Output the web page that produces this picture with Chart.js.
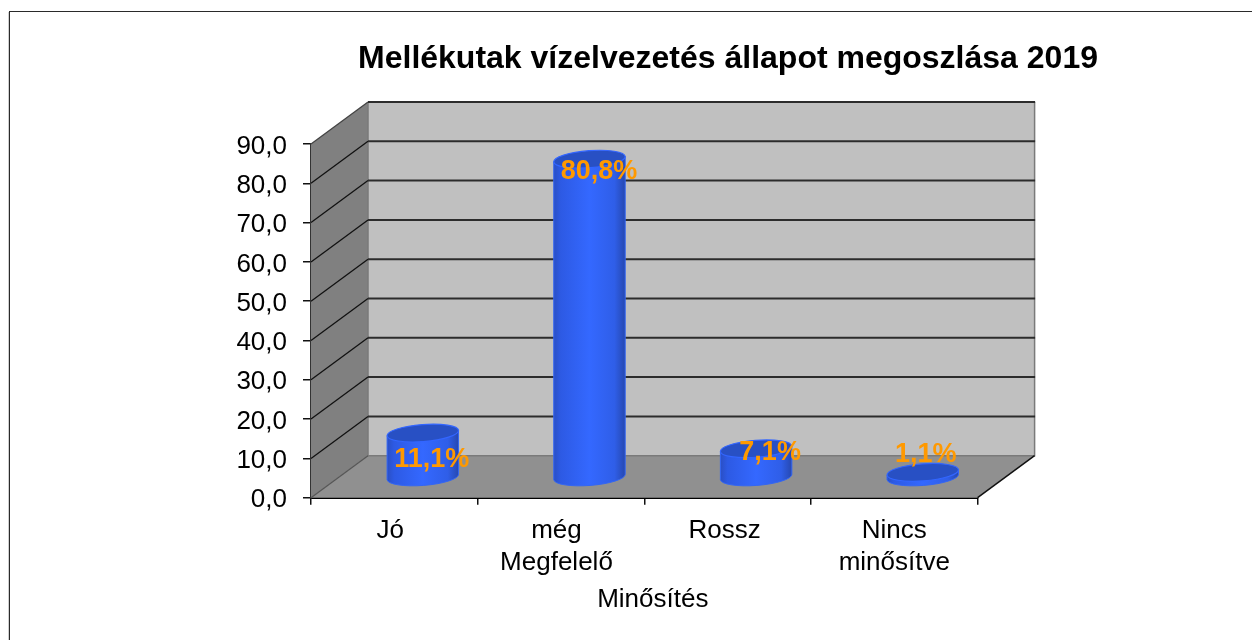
<!DOCTYPE html>
<html lang="hu">
<head>
<meta charset="utf-8">
<title>Mellékutak vízelvezetés állapot megoszlása 2019</title>
<script src="https://cdn.jsdelivr.net/npm/chart.js@4/dist/chart.umd.js"></script>
<style>
html,body{margin:0;padding:0;background:#fff}
#wrap{position:relative;width:1252px;height:640px}
canvas{display:block}
</style>
</head>
<body>
<div id="wrap"><canvas id="c" width="1252" height="640"></canvas></div>
<script>
const titleText = 'Mellékutak vízelvezetés állapot megoszlása 2019';
const axisTitle = 'Minősítés';
const categories = ['Jó', ['még', 'Megfelelő'], 'Rossz', ['Nincs', 'minősítve']];
const seriesValues = [11.1, 80.8, 7.1, 1.1];
const yTickLabels = ['0,0','10,0','20,0','30,0','40,0','50,0','60,0','70,0','80,0','90,0'];
const labelNudgeX = [9, 9.5, 14, 3];
const labelNudgeY = [24.6, 10.5, 2, -19.7];
const categoryLabelNudgeX = [-4, -4.5, -3, 0];
const yLabelNudge = 2.5;

const FONT = '"Liberation Sans", Arial, sans-serif';
const DX = 57, DY = 42;            // depth of the 3D box
const RY = 8.5, TILT = -4.3 * Math.PI / 180;

// Bars are painted as cylinders standing half way into the depth of the box
Chart.BarElement.prototype.draw = function (ctx) {
  const p = this.getProps(['x', 'y', 'base', 'width'], true);
  const cx = p.x + DX / 2, rx = p.width / 2;
  const top = p.y - DY / 2, bot = p.base - DY / 2 + 1;
  const sx = rx * Math.cos(TILT), sy = rx * Math.sin(TILT);
  const g = ctx.createLinearGradient(cx - rx, 0, cx + rx, 0);
  g.addColorStop(0, '#2a4fc4');
  g.addColorStop(0.1, '#2d5ae4');
  g.addColorStop(0.5, '#3468ff');
  g.addColorStop(0.85, '#2f5ee8');
  g.addColorStop(1, '#2648b0');
  ctx.save();
  ctx.beginPath();
  ctx.ellipse(cx, bot, rx, RY, TILT, 0, Math.PI);
  ctx.lineTo(cx - sx, top - sy);
  ctx.lineTo(cx + sx, top + sy);
  ctx.closePath();
  ctx.fillStyle = g;
  ctx.fill();
  ctx.lineWidth = 1;
  ctx.strokeStyle = '#3366f4';
  ctx.stroke();
  ctx.beginPath();
  ctx.ellipse(cx, top, rx, RY, TILT, 0, Math.PI * 2);
  ctx.fillStyle = '#2850c4';
  ctx.fill();
  ctx.strokeStyle = '#3366ff';
  ctx.lineWidth = 1.2;
  ctx.stroke();
  ctx.restore();
};

const box3d = {
  id: 'box3d',
  beforeDraw(chart) {
    const ctx = chart.ctx;
    // frame
    ctx.save();
    ctx.fillStyle = '#cfcfcf';
    ctx.fillRect(8, 12, 1, 628);
    ctx.fillStyle = '#2a2a2a';
    ctx.fillRect(9, 11, 1243, 1);
    ctx.fillRect(9, 11, 1, 629);
    ctx.restore();
    // move title, axis title and tick labels to where the reference has them
    chart.titleBlock.left = 204;
    chart.titleBlock.right = 1252;
    const xs = chart.scales.x, ys = chart.scales.y;
    if (!xs.__shifted) {
      const orig = xs.drawTitle;
      xs.drawTitle = function () {
        this.ctx.save();
        this.ctx.translate(8.5, 0);
        orig.call(this);
        this.ctx.restore();
      };
      xs.getLabelItems().forEach((it, i) => {
        it.options.translation = [it.options.translation[0] + categoryLabelNudgeX[i], it.options.translation[1]];
      });
      ys.getLabelItems().forEach(it => {
        it.options.translation = [it.options.translation[0], it.options.translation[1] + yLabelNudge];
      });
      xs.__shifted = true;
    }
  },
  beforeDatasetsDraw(chart) {
    const ctx = chart.ctx;
    const { left: L, right: R } = chart.chartArea;
    const y = chart.scales.y;
    const y0 = y.getPixelForValue(0), yT = y.getPixelForValue(90);
    ctx.save();
    // back wall
    ctx.fillStyle = '#c0c0c0';
    ctx.fillRect(L + DX, yT - DY, R - L, y0 - yT);
    // side wall
    ctx.fillStyle = '#808080';
    ctx.beginPath();
    ctx.moveTo(L, yT); ctx.lineTo(L + DX, yT - DY); ctx.lineTo(L + DX, y0 - DY); ctx.lineTo(L, y0);
    ctx.closePath(); ctx.fill();
    // floor
    ctx.fillStyle = '#909090';
    ctx.beginPath();
    ctx.moveTo(L, y0); ctx.lineTo(L + DX, y0 - DY); ctx.lineTo(R + DX, y0 - DY); ctx.lineTo(R, y0);
    ctx.closePath(); ctx.fill();
    // wall edges
    ctx.strokeStyle = '#7a7a7a';
    ctx.lineWidth = 1.5;
    ctx.beginPath();
    ctx.moveTo(L + DX, yT - DY); ctx.lineTo(L + DX, y0 - DY); ctx.lineTo(R + DX, y0 - DY); ctx.lineTo(R + DX, yT - DY);
    ctx.stroke();
    ctx.strokeStyle = '#555';
    ctx.lineWidth = 1.2;
    ctx.beginPath();
    ctx.moveTo(L, y0); ctx.lineTo(L + DX, y0 - DY);
    ctx.stroke();
    // grid lines on side and back wall
    y.ticks.forEach(t => {
      if (t.value === 0) return;
      const py = y.getPixelForValue(t.value);
      ctx.strokeStyle = t.value === 90 ? '#444' : '#111';
      ctx.lineWidth = 1.3;
      ctx.beginPath();
      ctx.moveTo(L, py); ctx.lineTo(L + DX, py - DY);
      ctx.stroke();
      ctx.strokeStyle = '#2c2c2c';
      ctx.lineWidth = 2;
      ctx.beginPath();
      ctx.moveTo(L + DX, py - DY); ctx.lineTo(R + DX + 0.5, py - DY);
      ctx.stroke();
    });
    // right floor edge
    ctx.strokeStyle = '#111';
    ctx.lineWidth = 1.5;
    ctx.beginPath();
    ctx.moveTo(R, y0); ctx.lineTo(R + DX, y0 - DY);
    ctx.stroke();
    ctx.restore();
  },
  afterDatasetsDraw(chart) {
    const ctx = chart.ctx;
    const meta = chart.getDatasetMeta(0);
    ctx.save();
    ctx.font = 'bold 27px ' + FONT;
    ctx.fillStyle = '#ff9900';
    ctx.textAlign = 'center';
    ctx.textBaseline = 'middle';
    meta.data.forEach((bar, i) => {
      const txt = seriesValues[i].toFixed(1).replace('.', ',') + '%';
      ctx.fillText(txt, bar.x + DX / 2 + labelNudgeX[i], bar.y - DY / 2 + labelNudgeY[i] + 2);
    });
    ctx.restore();
  }
};

new Chart(document.getElementById('c'), {
  type: 'bar',
  plugins: [box3d],
  data: {
    labels: categories,
    datasets: [{
      label: axisTitle,
      data: seriesValues,
      backgroundColor: '#3366ff',
      categoryPercentage: 1,
      barPercentage: 0.43,
      clip: false
    }]
  },
  options: {
    responsive: false,
    animation: false,
    layout: { padding: { left: 0, right: 274.4, top: 0, bottom: 0 } },
    plugins: {
      legend: { display: false },
      tooltip: { enabled: false },
      title: {
        display: true,
        text: titleText,
        color: '#000',
        font: { family: FONT, size: 32, weight: 'bold', lineHeight: 1.2 },
        padding: { top: 40, bottom: 65.6 }
      }
    },
    scales: {
      x: {
        afterFit: s => { s.height = 142.3; },
        grid: { drawOnChartArea: false, drawTicks: true, tickLength: 7, color: '#111', lineWidth: 1.5 },
        border: { display: true, color: '#000', width: 2 },
        ticks: { color: '#000', font: { family: FONT, size: 26, lineHeight: 1.2 }, padding: 11, maxRotation: 0, autoSkip: false },
        title: {
          display: true, text: axisTitle, color: '#000',
          font: { family: FONT, size: 26, lineHeight: 1.2 },
          padding: { top: 0, bottom: 25 }
        }
      },
      y: {
        min: 0, max: 90,
        afterFit: s => { s.width = 311; },
        grid: { drawOnChartArea: false, drawTicks: true, tickLength: 8, color: '#111', lineWidth: 1.5 },
        border: { display: true, color: '#333', width: 2 },
        ticks: {
          stepSize: 10,
          color: '#000',
          font: { family: FONT, size: 26 },
          padding: 16,
          callback: (v) => yTickLabels[Math.round(v / 10)]
        }
      }
    }
  }
});
</script>
</body>
</html>
